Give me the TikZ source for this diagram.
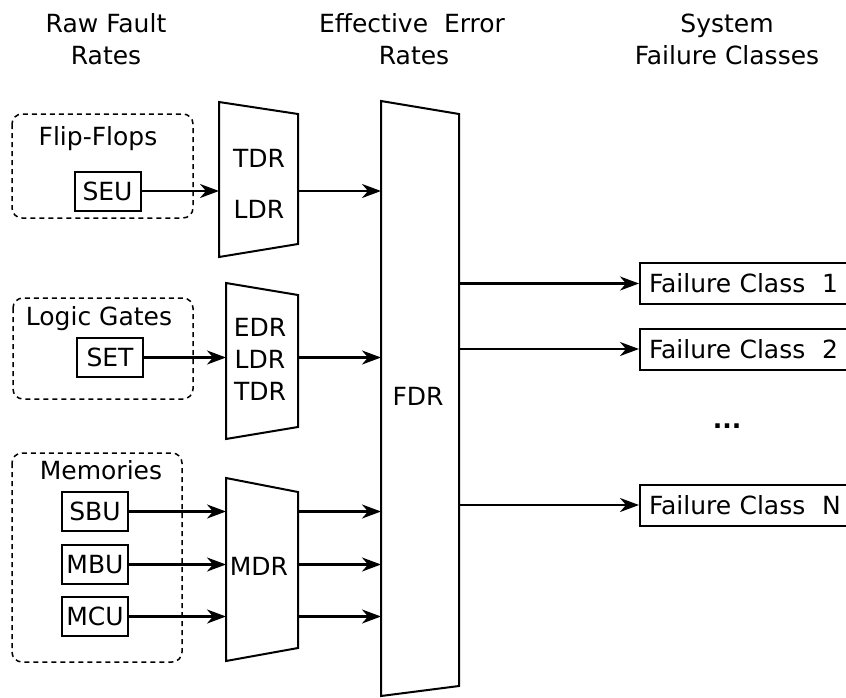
\documentclass[tikz,border=0pt]{standalone}
\usepackage{fontspec}
\setmainfont{DejaVu Sans}
\usetikzlibrary{arrows.meta}

\begin{document}
\begin{tikzpicture}[x=0.5pt, y=-0.5pt, line width=1pt,
        font=\fontsize{12.5}{16}\selectfont,
        txt/.style={inner sep=0pt, anchor=base},
        unit/.style={draw, minimum width=33pt, minimum height=19.5pt, inner sep=0pt},
        group/.style={draw, line width=0.75pt, dash pattern=on 2.5pt off 2pt, rounded corners=5pt},
        cls/.style={draw, anchor=west, text width=110pt, minimum height=20.5pt, inner xsep=4.5pt, inner ysep=0pt, align=left},
        conn/.style={line width=1.15pt, -{Stealth[length=9.5pt, width=7pt, inset=3pt]}}]
    \useasboundingbox (0,0) rectangle (846,697);

    % column titles
    \node[txt] (raw1) at (106,32) {Raw Fault};
    \node[txt] (raw2) at (106,64) {Rates};
    \node[txt] (eff1) at (412,32) {Effective\ \ Error};
    \node[txt] (eff2) at (414,64) {Rates};
    \node[txt] (sys1) at (727,32) {System};
    \node[txt] (sys2) at (727,64) {Failure Classes};

    % flip-flops
    \draw[group] (12,114) rectangle (193,218);
    \node[txt] (ff) at (98,145) {Flip-Flops};
    \node[unit] (seu) at (107.5,191) {SEU};
    \draw (219,102) coordinate (ffl) -- (298,114) coordinate (ffr) -- (298,244) -- (219,257) -- cycle;
    \node[txt] (tdra) at (259,167) {TDR};
    \node[txt] (ldra) at (259,218) {LDR};

    % logic gates
    \draw[group] (13,298) rectangle (193,399);
    \node[txt] (lg) at (99,325) {Logic Gates};
    \node[unit] (set) at (110,357.5) {SET};
    \draw (226,283) coordinate (lgl) -- (298,295) coordinate (lgr) -- (298,427) -- (226,439) -- cycle;
    \node[txt] (edrb) at (260,336) {EDR};
    \node[txt] (ldrb) at (260,368) {LDR};
    \node[txt] (tdrb) at (260,400) {TDR};

    % memories
    \draw[group] (12,453) rectangle (182,662);
    \node[txt] (mem) at (101,479) {Memories};
    \node[unit] (sbu) at (95,511.5) {SBU};
    \node[unit] (mbu) at (95,564.5) {MBU};
    \node[unit] (mcu) at (95,616.5) {MCU};
    \draw (226,478) coordinate (mdrl) -- (298,492) coordinate (mdrr) -- (298,648) -- (226,661) -- cycle;
    \node[txt] (mdr) at (259,575) {MDR};

    % FDR
    \draw (381,101) coordinate (fdrl) -- (459,114) coordinate (fdrr) -- (459,686) -- (381,696) -- cycle;
    \node[txt] (fdr) at (418,405) {FDR};

    % failure classes
    \node[cls] (fc1) at (639,283.5) {Failure Class\ \ 1};
    \node[cls] (fc2) at (639,349) {Failure Class\ \ 2};
    \node[txt] (dots) at (727,428) {\textbf{...}};
    \node[cls] (fcn) at (639,505) {Failure Class\ \ N};

    % connectors
    \draw[conn] (seu) -- (seu -| ffl);
    \draw[conn] (set) -- (set -| lgl);
    \draw[conn] (sbu) -- (sbu -| mdrl);
    \draw[conn] (mbu) -- (mbu -| mdrl);
    \draw[conn] (mcu) -- (mcu -| mdrl);
    \draw[conn] (seu -| ffr) -- (seu -| fdrl);
    \draw[conn] (set -| lgr) -- (set -| fdrl);
    \draw[conn] (sbu -| mdrr) -- (sbu -| fdrl);
    \draw[conn] (mbu -| mdrr) -- (mbu -| fdrl);
    \draw[conn] (mcu -| mdrr) -- (mcu -| fdrl);
    \draw[conn] (fc1 -| fdrr) -- (fc1);
    \draw[conn] (fc2 -| fdrr) -- (fc2);
    \draw[conn] (fcn -| fdrr) -- (fcn);
\end{tikzpicture}
\end{document}
